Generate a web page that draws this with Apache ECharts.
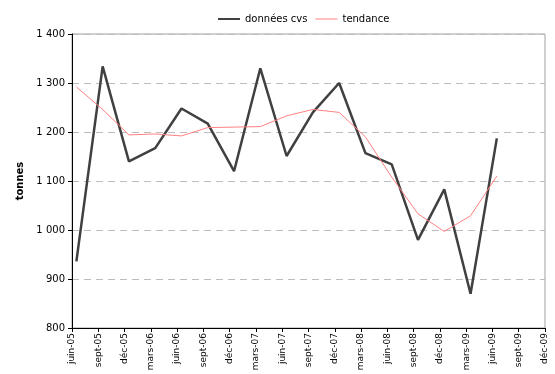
<!DOCTYPE html>
<html>
<head>
<meta charset="utf-8">
<script src="https://cdn.jsdelivr.net/npm/echarts@6/dist/echarts.min.js"></script>
<style>
  html, body { margin: 0; padding: 0; background: #fff; }
  #chart { width: 555px; height: 374px; }
</style>
</head>
<body>
<div id="chart"></div>
<script>
// trimestres (graduations de l'axe, une tous les 3 mois)
var categories = ['juin-05','sept-05','déc-05','mars-06','juin-06','sept-06','déc-06','mars-07',
                  'juin-07','sept-07','déc-07','mars-08','juin-08','sept-08','déc-08','mars-09',
                  'juin-09','sept-09','déc-09'];
// données cvs (tonnes)
var donneesCvs = [936, 1334, 1140, 1167, 1248, 1217, 1120, 1330, 1151, 1240, 1300, 1157, 1134, 980, 1083, 870, 1187];
// tendance
var tendance = [1292, 1246, 1194, 1196, 1192, 1209, 1210, 1211, 1233, 1246, 1240, 1190, 1108, 1033, 997, 1029, 1110];

var yTicks = [800, 900, 1000, 1100, 1200, 1300, 1400];

// axe en mois depuis juin-05 ; chaque point est placé au milieu de son mois (comme Excel, axe de dates)
function toPoints(arr) {
    return arr.map(function (v, i) { return [i * 3 + 0.5, v]; });
}

var myChart = echarts.init(document.getElementById('chart'));
var option = {
    animation: false,
    textStyle: { fontFamily: 'DejaVu Sans' },
    legend: {
        top: 9,
        left: 213,
        itemWidth: 22,
        itemHeight: 10,
        itemGap: 8,
        textStyle: { fontSize: 10, color: '#000' },
        data: [
            { name: 'données cvs', icon: 'path://M0,4 L22,4 L22,6 L0,6 Z' },
            { name: 'tendance', icon: 'path://M0,4.5 L22,4.5 L22,5.5 L0,5.5 Z' }
        ]
    },
    grid: {
        left: 72,
        right: 10,
        top: 34,
        bottom: 46,
        show: true,
        borderColor: '#a0a0a0',
        borderWidth: 1
    },
    xAxis: {
        type: 'value',
        min: 0,
        max: (categories.length - 1) * 3,
        interval: 3,
        splitLine: { show: false },
        axisLine: { onZero: false, lineStyle: { color: '#000', width: 1 } },
        axisTick: { show: true, length: 4, lineStyle: { color: '#000' } },
        axisLabel: {
            rotate: 90, fontSize: 9, color: '#000', margin: 5,
            showMinLabel: true, showMaxLabel: true,
            formatter: function (v) { return categories[Math.round(v / 3)]; }
        }
    },
    yAxis: {
        type: 'value',
        min: yTicks[0],
        max: yTicks[yTicks.length - 1],
        interval: 100,
        name: 'tonnes',
        nameLocation: 'middle',
        nameGap: 40,
        nameRotate: 90,
        nameTextStyle: { fontSize: 10, fontWeight: 'bold', color: '#000' },
        axisLine: { show: true, lineStyle: { color: '#000', width: 1 } },
        axisTick: { show: true, length: 4, lineStyle: { color: '#000' } },
        axisLabel: {
            fontSize: 10,
            color: '#000',
            margin: 7,
            formatter: function (v) { return String(v).replace(/\B(?=(\d{3})+(?!\d))/g, ' '); }
        },
        splitLine: { lineStyle: { color: '#bdbdbd', type: [7, 5], width: 1 } }
    },
    series: [
        {
            name: 'données cvs',
            type: 'line',
            data: toPoints(donneesCvs),
            showSymbol: false,
            symbol: 'none',
            lineStyle: { color: '#404040', width: 2.5 },
            itemStyle: { color: '#404040' },
            z: 3
        },
        {
            name: 'tendance',
            type: 'line',
            data: toPoints(tendance),
            showSymbol: false,
            symbol: 'none',
            lineStyle: { color: '#ff8080', width: 1 },
            itemStyle: { color: '#ff8080' },
            z: 4
        }
    ]
};
myChart.setOption(option);
</script>
</body>
</html>
